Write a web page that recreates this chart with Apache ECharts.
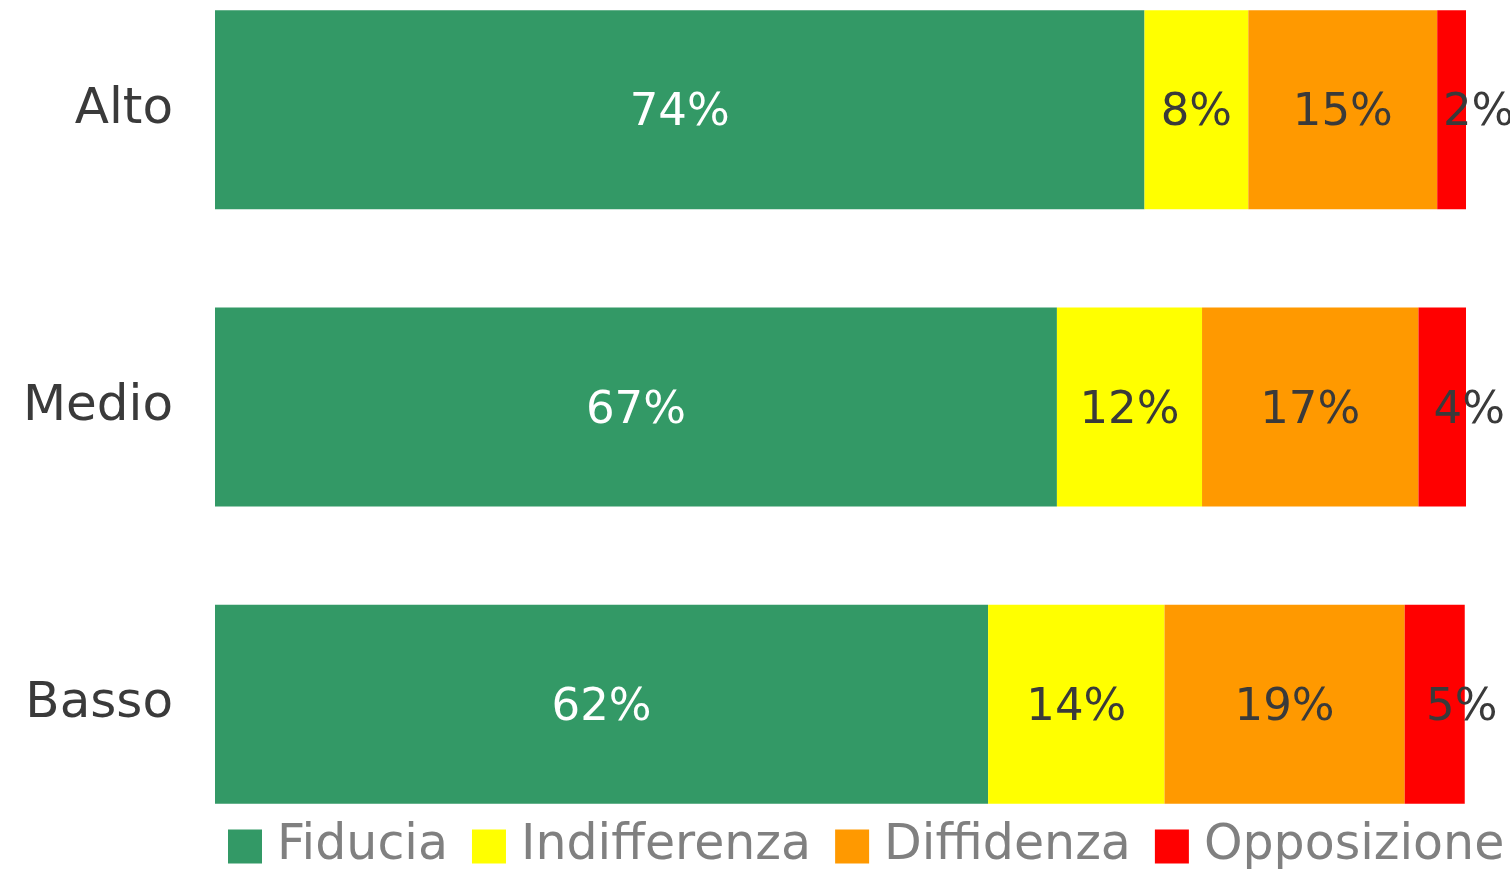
<!DOCTYPE html>
<html>
<head>
<meta charset="utf-8">
<script src="https://cdn.jsdelivr.net/npm/echarts@6/dist/echarts.min.js"></script>
<style>
  html, body { margin: 0; padding: 0; background: #fff; }
  #chart { width: 1510px; height: 870px; }
</style>
</head>
<body>
<div id="chart"></div>
<script>
  // categorie (dall'alto in basso)
  var categorie = ['Alto', 'Medio', 'Basso'];
  var nomiSerie = ['Fiducia', 'Indifferenza', 'Diffidenza', 'Opposizione'];
  var colori = ['#339966', '#ffff00', '#ff9900', '#ff0000'];

  // percentuali
  var fiducia      = [74.3, 67.3, 61.8];
  var indifferenza = [8.3, 11.6, 14.1];
  var diffidenza   = [15.1, 17.3, 19.2];
  var opposizione  = [2.3, 3.8, 4.8];

  var valori = [fiducia, indifferenza, diffidenza, opposizione];
  var font = 'DejaVu Sans';

  var series = [];
  for (var i = 0; i < nomiSerie.length; i++) {
    series.push({
      name: nomiSerie[i],
      type: 'bar',
      stack: 'tot',
      barWidth: 199,
      data: valori[i],
      itemStyle: { color: colori[i] },
      label: {
        show: true,
        position: 'inside',
        offset: i == 3 ? [27, 4] : [0, 4],
        formatter: function (p) { return Math.round(p.value) + '%'; },
        color: i == 0 ? '#ffffff' : '#3a3a3a',
        fontFamily: font,
        fontSize: 45
      }
    });
  }

  var myChart = echarts.init(document.getElementById('chart'));
  var option = {
    animation: false,
    grid: { left: 215, right: 44, top: -39, bottom: 17, outerBoundsMode: 'none' },
    legend: {
      data: nomiSerie,
      left: 228,
      top: 822,
      width: 1282,
      padding: 0,
      itemWidth: 34,
      itemHeight: 34,
      itemGap: 24,
      icon: 'rect',
      textStyle: {
        color: '#808080',
        fontFamily: font,
        fontSize: 49,
        padding: [0, 0, 0, 10]
      }
    },
    xAxis: {
      type: 'value',
      min: 0,
      max: 100,
      show: false
    },
    yAxis: {
      type: 'category',
      inverse: true,
      data: categorie,
      axisLine: { show: false },
      axisTick: { show: false },
      axisLabel: {
        margin: 42,
        color: '#3a3a3a',
        fontFamily: font,
        fontSize: 50,
        verticalAlign: 'middle',
        padding: [10, 0, 0, 0]
      }
    },
    series: series
  };
  myChart.setOption(option);
</script>
</body>
</html>
